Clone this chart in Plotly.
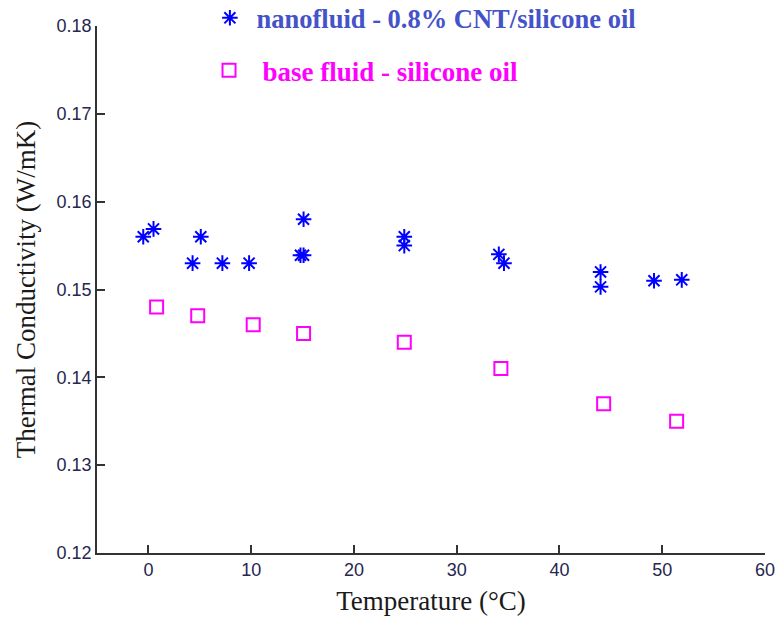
import plotly.graph_objects as go

# Data
nano_T = [-0.5, 0.5, 4.3, 5.1, 7.2, 9.8, 14.8, 15.1, 15.1, 24.9, 24.9, 34.1, 34.6, 44.0, 44.0, 49.2, 51.9]
nano_k = [0.156, 0.1569, 0.153, 0.156, 0.153, 0.153, 0.1539, 0.1539, 0.158, 0.156, 0.155, 0.154, 0.153, 0.152, 0.1503, 0.151, 0.1511]

base_T = [0.8, 4.8, 10.2, 15.1, 24.9, 34.3, 44.3, 51.4]
base_k = [0.148, 0.147, 0.146, 0.145, 0.144, 0.141, 0.137, 0.135]

x_ticks = [0, 10, 20, 30, 40, 50, 60]
y_ticks = [0.12, 0.13, 0.14, 0.15, 0.16, 0.17, 0.18]
y_tick_labels = ["0.12", "0.13", "0.14", "0.15", "0.16", "0.17", "0.18"]

nano_name = "\u00a0nanofluid - 0.8% CNT/silicone oil"
base_name = "\u00a0\u00a0base fluid - silicone oil"

fig = go.Figure()
fig.add_trace(go.Scatter(
    x=nano_T, y=nano_k, mode="markers", name=nano_name, legend="legend",
    marker=dict(symbol="asterisk-open", size=13, color="#0000ff",
                line=dict(color="#0000ff", width=2)),
))
fig.add_trace(go.Scatter(
    x=base_T, y=base_k, mode="markers", name=base_name, legend="legend2",
    marker=dict(symbol="square-open", size=13, color="#ff00ff",
                line=dict(color="#ff00ff", width=2)),
))

tick_font = dict(family="Liberation Sans, Arial, sans-serif", size=18, color="#262650")
title_font = dict(family="Liberation Serif, Times New Roman, serif", size=27, color="#1a1a1a")

fig.update_layout(
    width=776, height=617,
    margin=dict(l=97, r=11, t=26, b=64, autoexpand=False),
    paper_bgcolor="white", plot_bgcolor="white",
    showlegend=True,
    legend=dict(x=0.169, y=1.015, xanchor="left", yanchor="middle",
                bgcolor="rgba(0,0,0,0)", borderwidth=0,
                font=dict(family="Liberation Serif, Times New Roman, serif", size=26.5,
                          color="#4453c8", weight="bold")),
    legend2=dict(x=0.1677, y=0.915, xanchor="left", yanchor="middle",
                 bgcolor="rgba(0,0,0,0)", borderwidth=0,
                 font=dict(family="Liberation Serif, Times New Roman, serif", size=27,
                           color="#ff00ff", weight="bold")),
    xaxis=dict(
        range=[-5, 60], tickvals=x_ticks, ticks="inside", ticklen=8, tickwidth=1.5,
        tickcolor="#333333", showline=True, linecolor="#333333", linewidth=1.5,
        showgrid=False, zeroline=False, tickfont=tick_font,
        title=dict(text="Temperature (°C)", font=title_font, standoff=12),
    ),
    yaxis=dict(
        range=[0.12, 0.18], tickvals=y_ticks, ticktext=y_tick_labels, ticks="inside",
        ticklen=8, tickwidth=1.5, tickcolor="#333333", showline=True,
        linecolor="#333333", linewidth=1.5, showgrid=False, zeroline=False,
        tickfont=tick_font,
        title=dict(text="Thermal Conductivity (W/mK)", font=title_font, standoff=13),
    ),
)

fig.write_html("out.html", config={"displayModeBar": False},
               post_script="document.body.style.margin='0';")
